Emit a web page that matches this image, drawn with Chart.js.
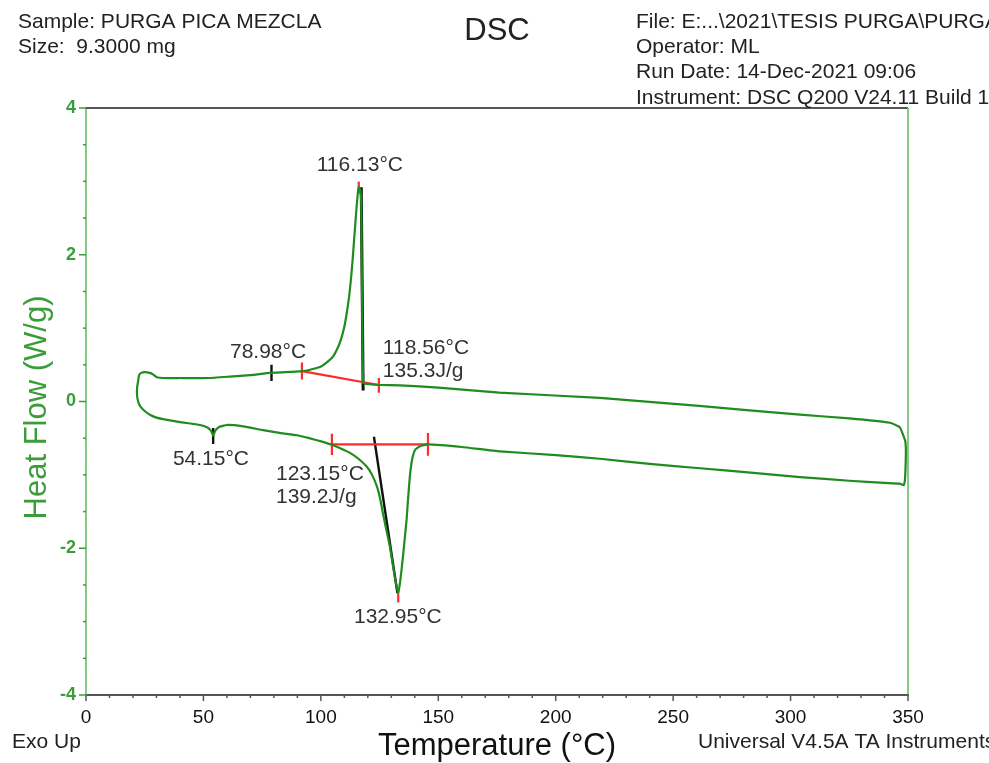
<!DOCTYPE html>
<html>
<head>
<meta charset="utf-8">
<script src="https://cdn.jsdelivr.net/npm/chart.js@4.4.1/dist/chart.umd.min.js"></script>
<style>
  html, body { margin: 0; padding: 0; background: #fff; overflow: hidden; }
</style>
</head>
<body>
<canvas id="dsc" width="989" height="763"></canvas>
<script>
// heating run (lower trace), temperature in C and heat flow in W/g
const heatT = [22.3, 21.8, 21.7, 22.2, 23.2, 25, 27.2, 30, 32.8, 40, 48.5, 51.5, 53.3, 54.15, 55.0, 56.5, 60, 67, 75.4, 83, 89.8, 95, 100.9,
  104.7, 108.5, 112.4, 116, 119.6, 121.8, 123.9, 125.2, 126.4, 127.9, 129.4, 130.5, 131.5, 132.3, 132.95, 133.7, 134.4, 135.1, 135.8,
  136.5, 137.2, 137.9, 138.8, 140.1, 142.2, 145.6, 160, 176.2, 200, 218.8, 240, 261.4, 283, 304, 325, 340, 346.5, 348.2];
const heatHF = [0.30, 0.20, 0.10, 0.0, -0.07, -0.13, -0.18, -0.22, -0.24, -0.28, -0.32, -0.35, -0.40, -0.47, -0.40, -0.35, -0.32, -0.34, -0.39, -0.43, -0.46, -0.50, -0.55,
  -0.59, -0.64, -0.70, -0.78, -0.89, -1.0, -1.16, -1.32, -1.52, -1.75, -1.98, -2.2, -2.39, -2.53, -2.60, -2.47, -2.28, -2.07, -1.84,
  -1.61, -1.30, -1.02, -0.80, -0.66, -0.61, -0.585, -0.62, -0.68, -0.73, -0.78, -0.85, -0.91, -0.97, -1.03, -1.08, -1.11, -1.12, -1.14];

// cooling run (upper trace), back down from 350 C to the start point
const coolT = [348.7, 349.1, 348.9, 348.2, 346.5, 342.3, 325, 304, 261, 218.8, 176, 150, 133.7, 124.7, 121, 119, 118.2, 118.0, 117.8, 117.5,
  117.2, 116.8, 116.13, 115.8, 115.4, 114.8, 114.1, 113.5, 112.8, 112, 111.1, 110, 108.5, 107, 105.1, 102, 99.6, 95, 92, 85, 78.3, 70,
  61.3, 52, 40, 33, 30.2, 28.5, 27.2, 25, 23.5, 22.6, 22.3];
const coolHF = [-1.07, -0.70, -0.55, -0.48, -0.35, -0.29, -0.23, -0.18, -0.06, 0.05, 0.12, 0.19, 0.22, 0.225, 0.235, 0.24, 0.25, 0.26, 0.6, 1.6,
  2.7, 2.88, 2.92, 2.86, 2.72, 2.48, 2.18, 1.92, 1.66, 1.42, 1.22, 1.02, 0.84, 0.72, 0.61, 0.52, 0.47, 0.43, 0.415, 0.40, 0.39, 0.36,
  0.34, 0.32, 0.32, 0.32, 0.33, 0.37, 0.39, 0.40, 0.39, 0.36, 0.30];

// analysis marks [t1, hf1, t2, hf2]
const redMarks = [
  [91.95, 0.415, 124.7, 0.225],
  [91.95, 0.53, 91.95, 0.30],
  [124.7, 0.32, 124.7, 0.12],
  [116.13, 3.0, 116.13, 2.83],
  [104.7, -0.585, 145.6, -0.585],
  [104.7, -0.44, 104.7, -0.73],
  [145.6, -0.43, 145.6, -0.74],
  [132.95, -2.58, 132.95, -2.74]
];
const blackMarks = [
  [117.2, 2.92, 118.0, 0.15],
  [78.98, 0.50, 78.98, 0.28],
  [122.6, -0.48, 132.6, -2.61],
  [54.15, -0.36, 54.15, -0.58]
];

// result labels: text, t, hf, align
const resultLabels = [
  ['116.13°C', 116.6, 3.22, 'center'],
  ['78.98°C', 77.5, 0.67, 'center'],
  ['118.56°C', 126.4, 0.72, 'left'],
  ['135.3J/g', 126.4, 0.41, 'left'],
  ['54.15°C', 53.2, -0.78, 'center'],
  ['123.15°C', 80.9, -0.99, 'left'],
  ['139.2J/g', 80.9, -1.30, 'left'],
  ['132.95°C', 132.8, -2.94, 'center']
];

const headerLeft = ['Sample: PURGA PICA MEZCLA', 'Size:  9.3000 mg'];
const headerRight = ['File: E:...\\2021\\TESIS PURGA\\PURGA', 'Operator: ML', 'Run Date: 14-Dec-2021 09:06', 'Instrument: DSC Q200 V24.11 Build 124'];

const FONT = '"Liberation Sans", Arial, sans-serif';
const traceGreen = '#1e8c1e';
const axisGreen = '#86c986';
const labelGreen = '#3a9d3a';

const toPts = (xs, ys) => xs.map((v, i) => ({x: v, y: ys[i]}));
const markSet = (m, color, width) => ({
  data: [{x: m[0], y: m[1]}, {x: m[2], y: m[3]}],
  borderColor: color, borderWidth: width, showLine: true, pointRadius: 0, tension: 0
});

const datasets = [{
  data: toPts(heatT, heatHF).concat(toPts(coolT, coolHF)),
  borderColor: traceGreen, borderWidth: 2.2, showLine: true, pointRadius: 0, tension: 0.12
}];
redMarks.forEach(m => datasets.push(markSet(m, '#ff2a2a', 2.2)));
blackMarks.forEach((m, i) => datasets.push(markSet(m, '#111', i === 0 ? 3 : 2.4)));

function text(ctx, s, x, y, font, color, align) {
  ctx.font = font;
  ctx.fillStyle = color;
  ctx.textAlign = align || 'left';
  ctx.textBaseline = 'middle';
  ctx.fillText(s, x, y);
}

const decor = {
  id: 'decor',
  beforeDatasetsDraw(chart) {
    const {ctx, chartArea: a, scales: {x, y}} = chart;
    ctx.save();
    ctx.lineWidth = 2;
    ctx.strokeStyle = '#555';
    ctx.beginPath(); ctx.moveTo(a.left, a.top); ctx.lineTo(a.right, a.top); ctx.stroke();
    ctx.strokeStyle = axisGreen;
    ctx.beginPath(); ctx.moveTo(a.right, a.top); ctx.lineTo(a.right, a.bottom); ctx.stroke();

    // tick marks
    ctx.lineWidth = 1.5;
    ctx.strokeStyle = '#555';
    x.ticks.forEach(t => {
      const px = x.getPixelForValue(t.value);
      const len = t.value % 50 === 0 ? 6 : 3;
      ctx.beginPath(); ctx.moveTo(px, a.bottom - 1); ctx.lineTo(px, a.bottom + len); ctx.stroke();
    });
    ctx.strokeStyle = labelGreen;
    y.ticks.forEach(t => {
      const py = y.getPixelForValue(t.value);
      const len = t.value % 2 === 0 ? 7 : 3;
      ctx.beginPath(); ctx.moveTo(a.left, py); ctx.lineTo(a.left - len, py); ctx.stroke();
    });
    ctx.restore();
  },
  afterDraw(chart) {
    const {ctx, chartArea: a, scales: {x, y}} = chart;
    ctx.save();
    const f21 = '21px ' + FONT;
    headerLeft.forEach((s, i) => text(ctx, s, 18, 22 + i * 25, f21, '#222'));
    headerRight.forEach((s, i) => text(ctx, s, 636, 22 + i * 25.3, f21, '#222'));
    text(ctx, 'DSC', 497, 31, '31px ' + FONT, '#222', 'center');

    text(ctx, 'Exo Up', 12, 742, f21, '#222');
    text(ctx, 'Temperature (°C)', 497, 746, '31px ' + FONT, '#111', 'center');
    text(ctx, 'Universal V4.5A TA Instruments', 698, 742, f21, '#222');

    ctx.save();
    ctx.translate(37, (a.top + a.bottom) / 2 + 6);
    ctx.rotate(-Math.PI / 2);
    text(ctx, 'Heat Flow (W/g)', 0, 0, '31px ' + FONT, labelGreen, 'center');
    ctx.restore();

    resultLabels.forEach(l => {
      text(ctx, l[0], x.getPixelForValue(l[1]), y.getPixelForValue(l[2]), f21, '#333', l[3]);
    });
    ctx.restore();
  }
};

new Chart(document.getElementById('dsc'), {
  type: 'scatter',
  data: {datasets},
  plugins: [decor],
  options: {
    responsive: false,
    animation: false,
    devicePixelRatio: 1,
    layout: {padding: {top: 108, right: 81, left: 0, bottom: 0}},
    plugins: {legend: {display: false}, tooltip: {enabled: false}},
    scales: {
      x: {
        type: 'linear', min: 0, max: 350,
        afterFit: s => { s.height = 68; },
        grid: {display: false, drawTicks: false},
        border: {display: true, color: '#555', width: 2},
        ticks: {stepSize: 10, autoSkip: false, maxRotation: 0, padding: 11, color: '#111',
          font: {family: FONT, size: 19},
          callback: v => (v % 50 === 0 ? v : '')}
      },
      y: {
        type: 'linear', min: -4, max: 4,
        afterFit: s => { s.width = 86; },
        grid: {display: false, drawTicks: false},
        border: {display: true, color: axisGreen, width: 2},
        ticks: {stepSize: 0.5, autoSkip: false, padding: 10, color: labelGreen,
          font: {family: FONT, size: 18, weight: 'bold'},
          callback: v => (v % 2 === 0 ? v : '')}
      }
    }
  }
});
</script>
</body>
</html>
